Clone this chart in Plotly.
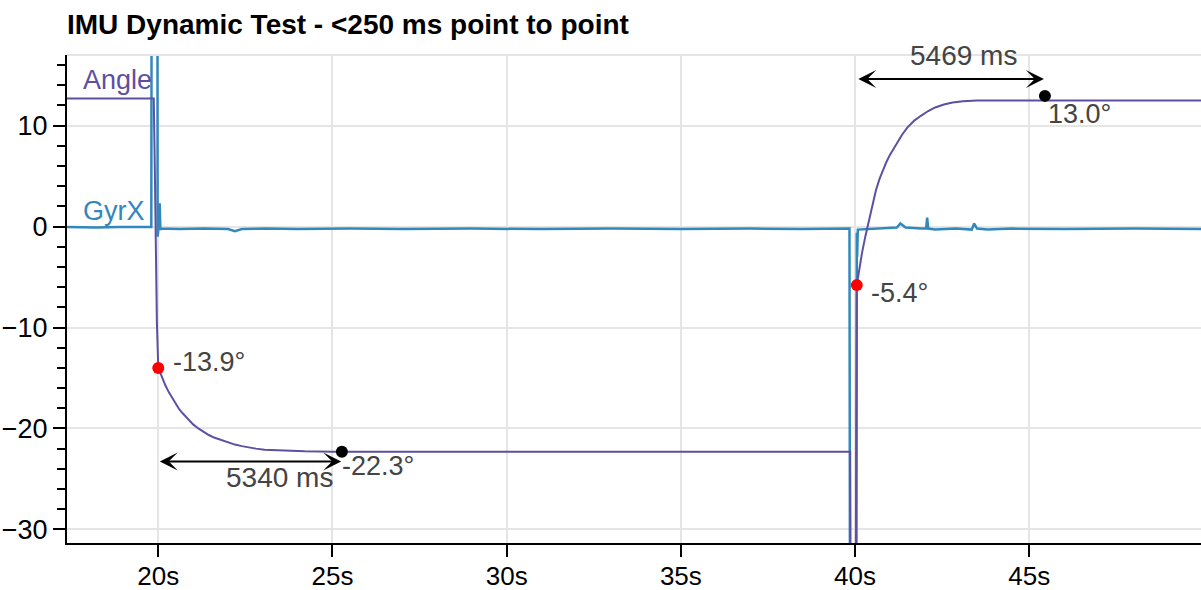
import plotly.graph_objects as go

# ---- data ----
gyr_t = [17.38, 18.2, 18.9, 19.5, 19.80, 19.83, 19.97, 19.98, 20.01, 20.04, 20.06, 20.10,
         20.6, 21.3, 22.0, 22.2, 22.4, 23.1, 24.0, 25.5, 27.0, 29.0, 31.0, 33.0, 35.0,
         37.0, 38.5, 39.84, 39.87, 40.03, 40.05, 40.06, 40.08, 40.5, 40.9, 41.2, 41.3,
         41.45, 41.9, 42.04, 42.07, 42.1, 42.3, 42.9, 43.35, 43.42, 43.5, 43.8, 44.5,
         46.0, 48.0, 49.93]
gyr_v = [-0.05, -0.1, -0.05, -0.1, -0.05, 80, 80, -1.0, -0.1, 2.3, -0.3, -0.2,
         -0.25, -0.2, -0.25, -0.45, -0.25, -0.2, -0.25, -0.2, -0.25, -0.2, -0.25, -0.2, -0.25,
         -0.2, -0.25, -0.2, -80, -80, -0.6, -3.0, -0.3, -0.2, -0.15, -0.1, 0.3,
         -0.1, -0.2, -0.2, 0.9, -0.2, -0.3, -0.2, -0.3, 0.3, -0.2, -0.3, -0.2,
         -0.25, -0.2, -0.25]

ang_t = [17.38, 19.87, 19.90, 19.93, 19.96,
         20.0, 20.1, 20.2, 20.3, 20.4, 20.5, 20.6, 20.7, 20.8, 20.9, 21.0, 21.15, 21.3,
         21.45, 21.6, 21.8, 22.0, 22.2, 22.4, 22.6, 22.8, 23.05, 23.3, 23.7, 24.2, 25.0,
         30.0, 35.0, 39.86, 39.88, 40.01,
         40.05, 40.12, 40.2, 40.3, 40.4, 40.5, 40.6, 40.7, 40.8, 40.9, 41.0, 41.2, 41.35,
         41.5, 41.7, 41.9, 42.1, 42.3, 42.55, 42.8, 43.1, 43.5, 44.2, 47.0, 49.93]
ang_v = [12.7, 12.7, 6.0, -3.0, -9.5,
         -14.0, -14.9, -15.7, -16.4, -17.0, -17.6, -18.1, -18.5, -18.9, -19.3, -19.6, -20.0, -20.35,
         -20.65, -20.9, -21.15, -21.4, -21.6, -21.75, -21.9, -22.0, -22.1, -22.15, -22.22, -22.27, -22.3,
         -22.3, -22.3, -22.3, -45, -45,
         -5.8, -4.1, -2.6, -0.9, 0.7, 2.2, 3.6, 4.7, 5.6, 6.4, 7.1, 8.3, 9.1,
         9.8, 10.5, 11.0, 11.45, 11.8, 12.1, 12.3, 12.42, 12.48, 12.5, 12.5, 12.5]

key_t = [20.0, 25.27, 40.05, 45.45]
key_v = [-14.0, -22.3, -5.8, 12.95]
key_labels = ["-13.9°", "-22.3°", "-5.4°", "13.0°"]
key_colors = ["red", "black", "red", "black"]

spans = [(20.0, 25.25, -23.27, "5340 ms"), (40.05, 45.42, 14.62, "5469 ms")]

PURPLE = "#5e4fa2"
BLUE = "#3288bd"
FONT = "Liberation Sans, Arial, sans-serif"

fig = go.Figure()
fig.add_trace(go.Scatter(x=gyr_t, y=gyr_v, mode="lines", name="GyrX",
                         line=dict(color=BLUE, width=2.5)))
fig.add_trace(go.Scatter(x=ang_t, y=ang_v, mode="lines", name="Angle",
                         line=dict(color=PURPLE, width=2)))
fig.add_trace(go.Scatter(x=key_t, y=key_v, mode="markers",
                         marker=dict(color=key_colors, size=12)))

annotations = []
# series labels
annotations.append(dict(x=17.78, y=14.5, text="Angle", showarrow=False, xanchor="left",
                        yanchor="middle", font=dict(color=PURPLE, size=27, family=FONT)))
annotations.append(dict(x=17.78, y=1.55, text="GyrX", showarrow=False, xanchor="left",
                        yanchor="middle", font=dict(color=BLUE, size=27, family=FONT)))
# value labels
label_pos = [(20.36, -13.4), (25.23, -23.7), (40.4, -6.6), (45.49, 11.15)]
for (lx, ly), txt in zip(label_pos, key_labels):
    annotations.append(dict(x=lx, y=ly, text=txt, showarrow=False, xanchor="left",
                            yanchor="middle", font=dict(color="#444", size=27, family=FONT)))
# span arrows
span_text_pos = [(23.49, -24.9), (43.12, 17.0)]
for (x0, x1, yy, txt), (tx, ty) in zip(spans, span_text_pos):
    annotations.append(dict(x=x1, y=yy, ax=x0, ay=yy, axref="x", ayref="y", text="",
                            showarrow=True, arrowside="end+start", arrowhead=3,
                            startarrowhead=3, arrowsize=1.5, startarrowsize=1.5,
                            arrowwidth=2, arrowcolor="black", standoff=0, startstandoff=0))
    annotations.append(dict(x=tx, y=ty, text=txt, showarrow=False, xanchor="center",
                            yanchor="middle", font=dict(color="#444", size=28, family=FONT)))

fig.update_layout(
    width=1201, height=590,
    margin=dict(l=67, r=0, t=55, b=47),
    paper_bgcolor="white", plot_bgcolor="white",
    showlegend=False,
    title=dict(text="<b>IMU Dynamic Test - <250 ms point to point</b>", x=67 / 1201,
               xanchor="left", xref="container", y=1 - 24 / 590, yanchor="middle",
               yref="container", font=dict(family=FONT, size=28, color="black")),
    font=dict(family=FONT, size=27, color="black"),
    annotations=annotations,
    shapes=[dict(type="line", xref="paper", yref="paper", x0=0, x1=1, y0=1, y1=1,
                 line=dict(color="#e5e5e5", width=2))],
)
fig.update_xaxes(range=[17.38, 49.93], dtick=5, tick0=0, ticksuffix="s", automargin=False,
                 showgrid=True, gridcolor="#e5e5e5", gridwidth=2,
                 showline=True, linecolor="black", linewidth=2,
                 ticks="outside", ticklen=12, tickwidth=2, tickcolor="black",
                 ticklabelstandoff=-3,
                 zeroline=False, tickfont=dict(size=26, color="black", family=FONT))
fig.update_yaxes(range=[-31.35, 17.0], dtick=10, tick0=0, automargin=False,
                 showgrid=True, gridcolor="#e5e5e5", gridwidth=2,
                 showline=True, linecolor="black", linewidth=2,
                 ticks="outside", ticklen=12, tickwidth=2, tickcolor="black",
                 minor=dict(dtick=2, ticks="outside", ticklen=8, tickwidth=2,
                            tickcolor="black", showgrid=False),
                 zeroline=False, tickfont=dict(size=27, color="black", family=FONT))

fig.write_html("out.html")
